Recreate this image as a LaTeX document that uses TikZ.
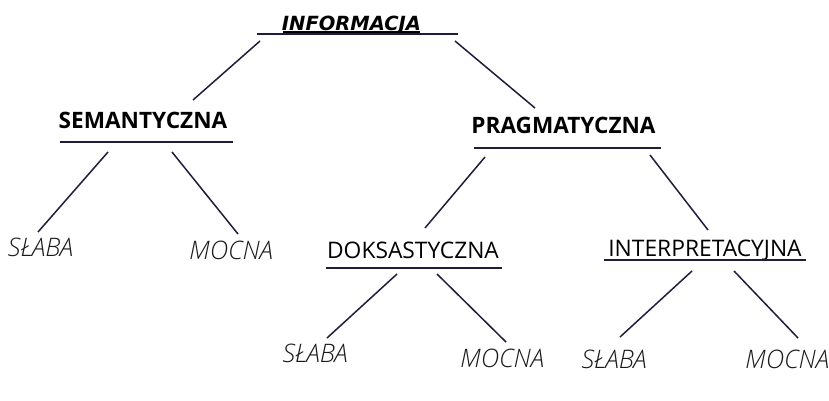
\documentclass[tikz,border=0pt]{standalone}
\usepackage{fontspec}
\setmainfont{Open Sans}
\newfontfamily\topfont{DejaVu Sans}
\newfontfamily\lightfont{Open Sans Light}[ItalicFont={Open Sans Light Italic}]
\begin{document}
\begin{tikzpicture}[x=1pt,y=-1pt,
  conn/.style={draw=linecol,line width=1.5pt},
  uline/.style={draw=linecol,line width=1.6pt},
  boldlbl/.style={anchor=base,inner sep=0pt,font=\fontsize{22.6}{24}\selectfont\bfseries,text=black},
  reglbl/.style={anchor=base,inner sep=0pt,font=\fontsize{22.8}{24}\selectfont,text=black},
  leaf/.style={anchor=base,inner sep=0pt,font=\lightfont\fontsize{25.5}{27}\selectfont\itshape,text=black!90},
  toplbl/.style={anchor=base,inner sep=0pt,font=\topfont\fontsize{19.5}{21}\selectfont\bfseries\itshape,text=black}]
\definecolor{linecol}{HTML}{1E1E3C}
\useasboundingbox (0,0) rectangle (829,400);
\fill[white] (0,0) rectangle (829,400);
% labels
\node[toplbl] (inf) at (351.5,30) {INFORMACJA};
\node[boldlbl] (sem) at (143,128) {SEMANTYCZNA};
\node[boldlbl] (prag) at (563.5,133) {PRAGMATYCZNA};
\node[reglbl] (dok) at (413,258) {DOKSASTYCZNA};
\node[reglbl] (int) at (705,256) {INTERPRETACYJNA};
\node[leaf] (s1) at (40.5,256) {SŁABA};
\node[leaf] (m1) at (231,259) {MOCNA};
\node[leaf] (s2) at (315,362) {SŁABA};
\node[leaf] (m2) at (502,367) {MOCNA};
\node[leaf] (s3) at (614,368) {SŁABA};
\node[leaf] (m3) at (787,368) {MOCNA};
% underline coordinates
\coordinate (infL) at (257,34); \coordinate (infR) at (458,34);
\coordinate (infuL) at (283,32); \coordinate (infuR) at (420,32);
\coordinate (semL) at (60,142); \coordinate (semR) at (233,142);
\coordinate (pragL) at (474,148); \coordinate (pragR) at (661,148);
\coordinate (dokL) at (326,268); \coordinate (dokR) at (502,268);
\coordinate (intL) at (604,260); \coordinate (intR) at (806,260);
\draw[uline] (infL) -- (infR);
\draw[draw=black,line width=2pt] (infuL) -- (infuR);
\draw[uline] (semL) -- (semR);
\draw[uline] (pragL) -- (pragR);
\draw[uline] (dokL) -- (dokR);
\draw[uline] (intL) -- (intR);
% connector end points
\coordinate (a1) at (260,41); \coordinate (a2) at (193,100);
\coordinate (b1) at (455,41); \coordinate (b2) at (535,108);
\coordinate (c1) at (108,152); \coordinate (c2) at (38,232);
\coordinate (d1) at (172,152); \coordinate (d2) at (238,234);
\coordinate (e1) at (485,157); \coordinate (e2) at (425,228);
\coordinate (f1) at (650,155); \coordinate (f2) at (708,230);
\coordinate (g1) at (397,274); \coordinate (g2) at (327,338);
\coordinate (h1) at (437,274); \coordinate (h2) at (506,342);
\coordinate (i1) at (692,271); \coordinate (i2) at (620,337);
\coordinate (j1) at (734,271); \coordinate (j2) at (798,338);
\draw[conn] (a1) -- (a2);
\draw[conn] (b1) -- (b2);
\draw[conn] (c1) -- (c2);
\draw[conn] (d1) -- (d2);
\draw[conn] (e1) -- (e2);
\draw[conn] (f1) -- (f2);
\draw[conn] (g1) -- (g2);
\draw[conn] (h1) -- (h2);
\draw[conn] (i1) -- (i2);
\draw[conn] (j1) -- (j2);
\end{tikzpicture}
\end{document}
